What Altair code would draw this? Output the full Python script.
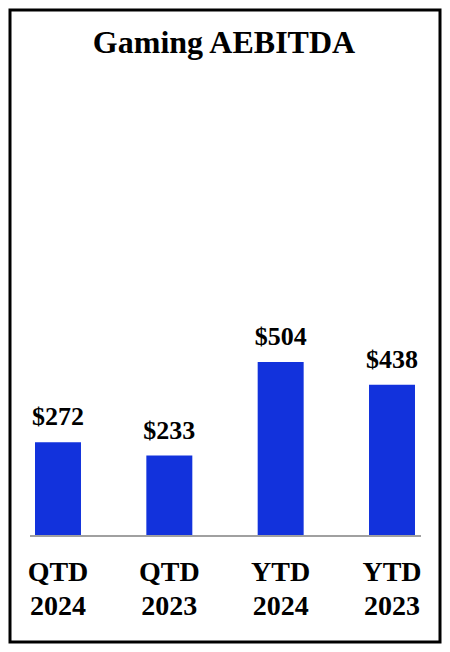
import altair as alt
import pandas as pd

title_text = "Gaming AEBITDA"
categories = ["QTD 2024", "QTD 2023", "YTD 2024", "YTD 2023"]
values = [272, 233, 504, 438]
labels = ["$272", "$233", "$504", "$438"]

df = pd.DataFrame({"cat": categories, "value": values, "label": labels})

FONT = "Liberation Serif"
BLUE = "#1232DC"

x_enc = alt.X(
    "cat:N",
    sort=categories,
    scale=alt.Scale(paddingInner=0.587, paddingOuter=0.2246),
    axis=alt.Axis(
        orient="bottom",
        offset=-106,
        domain=False,
        ticks=False,
        labelAngle=0,
        labelFont=FONT,
        labelFontSize=28,
        labelFontWeight="bold",
        labelColor="black",
        labelPadding=22,
        labelBaseline="top",
        labelLineHeight=34,
        labelExpr="split(datum.label, ' ')",
        title=None,
    ),
)
y_scale = alt.Scale(domain=[-307, 1524], nice=False, zero=False)

base = alt.Chart(df)

bars = base.mark_bar(color=BLUE).encode(
    x=x_enc,
    y=alt.Y("value:Q", scale=y_scale, axis=None),
    y2=alt.datum(0),
)

text = base.mark_text(
    font=FONT, fontSize=26, fontWeight="bold", color="black",
    baseline="alphabetic", dy=-17,
).encode(
    x=alt.X("cat:N", sort=categories),
    y=alt.Y("value:Q", scale=y_scale),
    text="label:N",
)

rule = alt.Chart(pd.DataFrame({"z": [0]})).mark_rule(
    color="#A0A0A0", strokeWidth=2
).encode(
    y=alt.Y("z:Q", scale=y_scale),
    x=alt.value(20),
    x2=alt.value(411),
)

title = alt.Chart(pd.DataFrame({"t": [title_text], "ty": [1399]})).mark_text(
    font=FONT, fontSize=32, fontWeight="bold", color="black",
    baseline="alphabetic", align="center",
).encode(
    x=alt.value(214),
    y=alt.Y("ty:Q", scale=y_scale),
    text="t:N",
)

chart = alt.layer(bars, rule, text, title).properties(
    width=430,
    height=632,
    padding=2,
    autosize=alt.AutoSizeParams(type="none"),
).configure(
    background="white",
    view=alt.ViewConfig(stroke="black", strokeWidth=3),
)

chart.save("out.html", embed_options={"renderer": "svg", "actions": False})
